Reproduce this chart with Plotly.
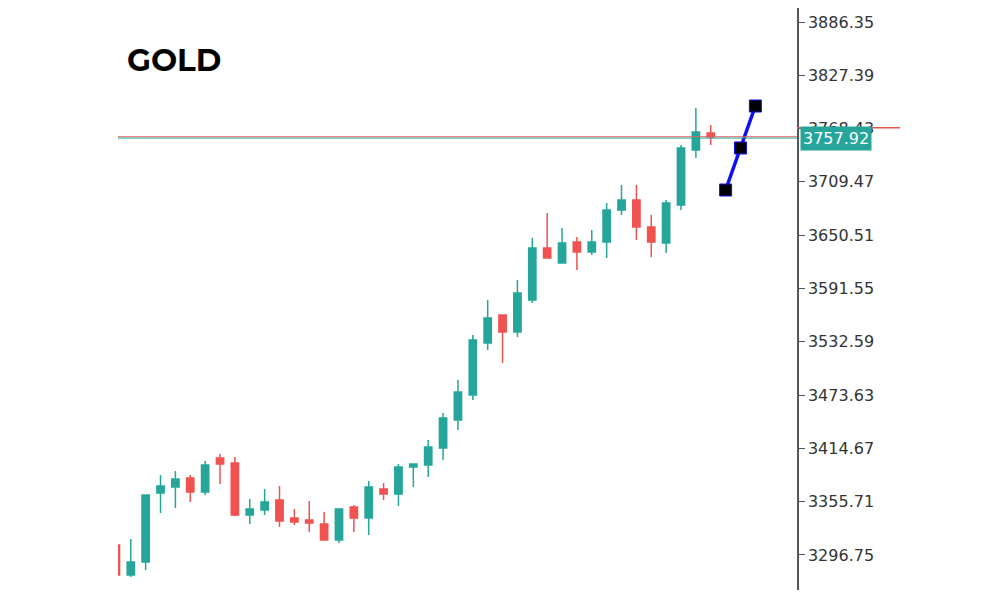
import plotly.graph_objects as go

# candle data (index, open, high, low, close)
idx = list(range(41))
opens = [3307.8, 3274.6, 3289.0, 3365.3, 3372.0, 3381.9, 3366.4, 3404.1, 3398.5, 3341.0,
         3346.5, 3357.6, 3337.7, 3335.5, 3331.1, 3313.4, 3349.9, 3337.7, 3369.8, 3364.2,
         3394.1, 3396.3, 3415.1, 3446.1, 3473.7, 3531.3, 3562.2, 3543.4, 3578.8, 3636.4,
         3619.8, 3643.0, 3631.9, 3643.0, 3678.4, 3689.5, 3659.6, 3641.9, 3683.9, 3744.8,
         3763.6]
highs = [3326.6, 3314.5, 3363.1, 3385.3, 3389.7, 3385.3, 3400.7, 3408.5, 3405.2, 3358.7,
         3369.8, 3373.1, 3347.6, 3356.5, 3344.3, 3347.6, 3352.1, 3378.6, 3376.4, 3397.4,
         3397.4, 3424.0, 3453.8, 3490.3, 3540.1, 3578.8, 3562.2, 3601.0, 3647.4, 3675.1,
         3658.5, 3648.5, 3656.3, 3686.1, 3706.0, 3706.0, 3672.9, 3689.5, 3750.3, 3791.2,
         3772.4]
lows = [3272.4, 3272.4, 3280.2, 3343.2, 3348.8, 3355.4, 3363.1, 3375.3, 3339.9, 3331.1,
        3341.0, 3327.7, 3329.9, 3322.2, 3313.4, 3310.0, 3322.2, 3318.9, 3357.6, 3351.0,
        3372.0, 3383.0, 3401.8, 3435.0, 3468.2, 3523.5, 3509.1, 3537.9, 3575.5, 3625.3,
        3619.8, 3612.0, 3628.6, 3625.3, 3672.9, 3645.2, 3626.4, 3630.8, 3678.4, 3735.9,
        3750.3]
closes = [3274.6, 3289.0, 3363.1, 3373.1, 3380.8, 3366.4, 3396.3, 3397.4, 3341.0, 3347.6,
          3355.4, 3334.4, 3333.3, 3332.2, 3313.4, 3347.6, 3337.7, 3372.0, 3364.2, 3394.1,
          3397.4, 3416.2, 3448.3, 3477.1, 3534.6, 3558.9, 3543.4, 3586.6, 3636.4, 3625.3,
          3641.9, 3631.9, 3643.0, 3678.4, 3689.5, 3659.6, 3643.0, 3686.1, 3747.0, 3764.7,
          3759.1]

# projection line
proj_x = [41, 42, 43]
proj_y = [3700.5, 3747.0, 3793.4]

tick_vals = [3296.75, 3355.71, 3414.67, 3473.63, 3532.59, 3591.55, 3650.51, 3709.47, 3768.43, 3827.39, 3886.35]
last_price = 3757.92

fig = go.Figure()
fig.add_trace(go.Candlestick(
    x=idx, open=opens, high=highs, low=lows, close=closes,
    increasing=dict(line=dict(color='#26a69a', width=1.5), fillcolor='#26a69a'),
    decreasing=dict(line=dict(color='#ef5350', width=1.5), fillcolor='#ef5350'),
    whiskerwidth=0, showlegend=False,
))

fig.add_trace(go.Scatter(
    x=proj_x, y=proj_y, mode='lines+markers',
    line=dict(color='#1010ee', width=3.5),
    marker=dict(symbol='square', size=12, color='black', line=dict(color='#1010ee', width=1)),
    showlegend=False,
))

# price lines
fig.add_hline(y=last_price + 1.5, line=dict(color='#e06060', width=1))
fig.add_hline(y=last_price, line=dict(color='#26a69a', width=1))
fig.add_shape(type='line', xref='paper', yref='y', x0=1.0, x1=1.152, y0=3769.5, y1=3769.5,
              line=dict(color='#ef5350', width=1.5))

fig.add_annotation(
    x=1.0, xref='paper', y=last_price, yref='y', xanchor='left', yanchor='middle',
    text=f'{last_price:.2f}', showarrow=False,
    font=dict(family='DejaVu Sans', size=16, color='white'),
    bgcolor='#26a69a', borderpad=2, xshift=3,
)

fig.add_annotation(
    x=(117 - 110) / 679, y=(582 - 52) / 582, xref='paper', yref='paper',
    text='<b>GOLD</b>', showarrow=False,
    font=dict(family='Montserrat, Roboto', size=31, color='black'),
    xanchor='left', yanchor='middle',
)

fig.update_layout(
    width=1000, height=600,
    margin=dict(l=110, r=211, t=0, b=18),
    plot_bgcolor='white', paper_bgcolor='white',
    xaxis=dict(range=[0.14, 45.8], visible=False, rangeslider=dict(visible=False)),
    yaxis=dict(
        range=[3258.0, 3901.84], side='right', tickvals=tick_vals,
        ticktext=[f'{v:.2f}' for v in tick_vals],
        ticks='outside', ticklen=6, tickcolor='#555', showgrid=False, zeroline=False,
        showline=True, linecolor='#555', linewidth=1.5,
        tickfont=dict(family='DejaVu Sans', size=16, color='#333'),
    ),
)

fig.write_html("out.html")
